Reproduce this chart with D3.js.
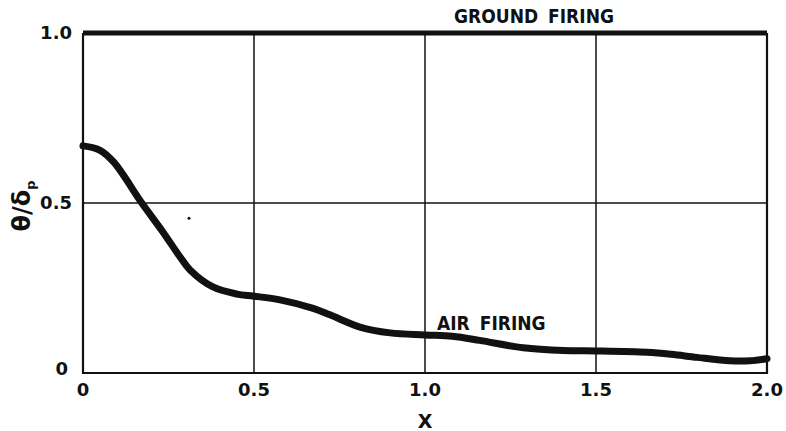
<!DOCTYPE html>
<html><head><meta charset="utf-8">
<script src="https://cdn.jsdelivr.net/npm/d3@7"></script>
<style>body{margin:0;background:#fff}svg{display:block}text{font-family:"DejaVu Sans",sans-serif;font-weight:bold;fill:#111}.ann{font-family:"DejaVu Sans Condensed","DejaVu Sans",sans-serif}</style>
</head><body><svg id="c" width="786" height="431"></svg>
<script>
const airX = [0,0.05,0.09,0.172,0.23,0.284,0.313,0.38,0.45,0.5,0.576,0.673,0.722,0.81,0.898,1.0,1.08,1.16,1.287,1.404,1.503,1.649,1.72,1.795,1.892,1.95,2.0];
const airY = [0.668,0.655,0.62,0.5,0.42,0.341,0.303,0.253,0.232,0.226,0.215,0.19,0.171,0.135,0.118,0.112,0.108,0.096,0.074,0.066,0.065,0.061,0.055,0.046,0.036,0.036,0.042];
const groundX = [0,2];
const groundY = [1,1];
const xTicks = [0,0.5,1.0,1.5,2.0];
const xTickLabels = ["0","0.5","1.0","1.5","2.0"];
const yTicks = [0,0.5,1.0];
const yTickLabels = ["0","0.5","1.0"];

const svg = d3.select("#c");
const x = d3.scaleLinear().domain([0,2]).range([83,767]);
const y = d3.scaleLinear().domain([0,1]).range([373,33]);

// grid
svg.append("g").selectAll("line").data([0.5,1.0,1.5]).join("line")
  .attr("x1",d=>x(d)).attr("x2",d=>x(d)).attr("y1",y(1)).attr("y2",y(0))
  .attr("stroke","#111").attr("stroke-width",1.5);
svg.append("line").attr("x1",x(0)).attr("x2",x(2)).attr("y1",y(0.5)).attr("y2",y(0.5))
  .attr("stroke","#111").attr("stroke-width",1.5);
// frame
svg.append("path").attr("d",`M${x(0)},${y(1)}V${y(0)}H${x(2)}V${y(1)}`)
  .attr("fill","none").attr("stroke","#111").attr("stroke-width",2.2);

const line = d3.line().x(d=>x(d[0])).y(d=>y(d[1]));
svg.append("path").datum(groundX.map((v,i)=>[v,groundY[i]])).attr("d",line)
  .attr("fill","none").attr("stroke","#111").attr("stroke-width",5);
svg.append("path").datum(airX.map((v,i)=>[v,airY[i]])).attr("d",line.curve(d3.curveCatmullRom))
  .attr("fill","none").attr("stroke","#111").attr("stroke-width",7).attr("stroke-linecap","round");

// x tick labels
svg.append("g").selectAll("text").data(xTicks).join("text")
  .attr("x",d=>x(d)).attr("y",396).attr("text-anchor","middle").attr("font-size",18)
  .text((d,i)=>xTickLabels[i]);
// y tick labels
svg.append("g").selectAll("text").data(yTicks).join("text")
  .attr("x",d=>d===0?68:72).attr("y",d=>d===0?y(d)+2:y(d)+6).attr("text-anchor","end").attr("font-size",18)
  .text((d,i)=>yTickLabels[i]);
// axis titles
svg.append("text").attr("x",x(1)).attr("y",428).attr("text-anchor","middle").attr("font-size",19).text("X");
const yl = svg.append("text").attr("transform","translate(30,206) rotate(-90)").attr("text-anchor","middle").attr("font-size",24);
yl.append("tspan").text("θ/δ");
yl.append("tspan").attr("font-size",13).attr("dy",5).text("p");
// annotations
svg.append("text").attr("class","ann").attr("x",534).attr("y",23).attr("text-anchor","middle").attr("font-size",19).attr("word-spacing",4).text("GROUND FIRING");
svg.append("text").attr("class","ann").attr("x",437).attr("y",330).attr("font-size",19).attr("word-spacing",4).text("AIR FIRING");
// stray dot
svg.append("circle").attr("cx",x(0.31)).attr("cy",y(0.455)).attr("r",1.5).attr("fill","#111");
</script></body></html>
